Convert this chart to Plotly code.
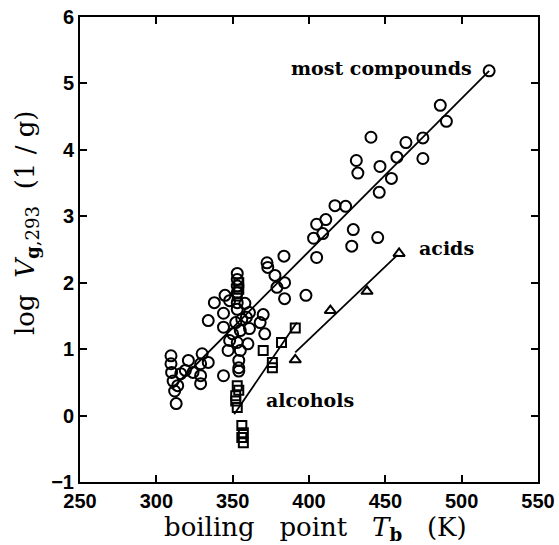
import plotly.graph_objects as go

# most compounds (circles)
comp_x = [309.6, 309.6, 310, 311, 312, 313, 314, 316, 319, 321, 330, 329, 334, 329, 329, 324,
          334, 338, 344, 344, 345, 348, 350, 348, 347, 344,
          353, 353, 353, 353, 353, 353, 355, 353, 355, 354, 354, 354, 358, 359, 361, 361, 360, 356, 352,
          368, 370, 371, 372.5, 373, 377.7, 379, 384, 383.6, 384, 398,
          403, 405, 405, 409, 411, 417, 424, 428, 429, 431, 432, 440.6, 445, 446, 446.5, 454,
          457.6, 463.5, 474.6, 474.6, 486, 490, 518]
comp_y = [0.90, 0.78, 0.65, 0.52, 0.37, 0.18, 0.45, 0.63, 0.68, 0.83, 0.93, 0.78, 0.80, 0.60, 0.48, 0.65,
          1.43, 1.70, 1.54, 1.33, 1.81, 1.73, 1.23, 1.13, 0.98, 0.60,
          2.14, 2.05, 1.95, 1.85, 1.70, 1.60, 1.28, 1.10, 0.98, 0.83, 0.72, 0.67, 1.69, 1.48, 1.55, 1.31, 1.08, 1.45, 1.40,
          1.40, 1.52, 1.23, 2.30, 2.23, 2.11, 1.93, 2.00, 2.40, 1.76, 1.81,
          2.67, 2.88, 2.38, 2.74, 2.95, 3.16, 3.15, 2.55, 2.80, 3.84, 3.65, 4.19, 2.68, 3.36, 3.75, 3.57,
          3.89, 4.11, 4.18, 3.87, 4.67, 4.43, 5.19]

# alcohols (squares)
alc_x = [353, 352, 352, 353, 354, 356, 357, 357, 356, 354, 354, 353, 370, 376, 376, 382, 391]
alc_y = [0.45, 0.30, 0.22, 0.12, 0.38, -0.15, -0.26, -0.41, -0.33, 1.90, 2.00, 1.80, 0.98, 0.80, 0.72, 1.10, 1.32]

# acids (triangles)
acid_x = [391, 414, 438, 459]
acid_y = [0.84, 1.58, 1.87, 2.44]

# regression lines
fit_comp_x = [310, 518]
fit_comp_y = [0.40, 5.19]
fit_alc_x = [351, 392]
fit_alc_y = [0.02, 1.40]
fit_acid_x = [391, 458]
fit_acid_y = [0.95, 2.42]

x_ticks = [250, 300, 350, 400, 450, 500, 550]
y_ticks = [-1, 0, 1, 2, 3, 4, 5, 6]

fig = go.Figure()
line_style = dict(color="black", width=1.8)
for fx, fy in [(fit_comp_x, fit_comp_y), (fit_alc_x, fit_alc_y), (fit_acid_x, fit_acid_y)]:
    fig.add_trace(go.Scatter(x=fx, y=fy, mode="lines", line=line_style, showlegend=False, hoverinfo="skip"))

fig.add_trace(go.Scatter(x=comp_x, y=comp_y, mode="markers", showlegend=False,
                         marker=dict(symbol="circle-open", size=11, color="black", line=dict(width=2, color="black"))))
fig.add_trace(go.Scatter(x=alc_x, y=alc_y, mode="markers", showlegend=False,
                         marker=dict(symbol="square-open", size=9, color="black", line=dict(width=2, color="black"))))
fig.add_trace(go.Scatter(x=acid_x, y=acid_y, mode="markers", showlegend=False,
                         marker=dict(symbol="triangle-up-open", size=10, color="black", line=dict(width=2, color="black"))))

serif = "DejaVu Serif"
ann_font = dict(family=serif, size=19, color="black", weight="bold")
fig.add_annotation(x=508, y=5.23, text="most compounds", showarrow=False, font=ann_font, xanchor="right", yanchor="middle")
fig.add_annotation(x=471, y=2.53, text="acids", showarrow=False, font=ann_font, xanchor="left", yanchor="middle")
fig.add_annotation(x=370.5, y=0.24, text="alcohols", showarrow=False, font=ann_font, xanchor="left", yanchor="middle")

title_font = dict(family=serif, size=26, color="black")
fig.add_annotation(xref="paper", yref="paper", x=0.515, y=-0.099, showarrow=False, font=title_font,
                   text="boiling   point   <i>T</i><sub><b>b</b></sub>   (K)", xanchor="center", yanchor="middle")
fig.add_annotation(xref="paper", yref="paper", x=-0.1157, y=0.557, showarrow=False, font=title_font, textangle=-90,
                   text="log  <i>V</i><sub><b>g</b>,293</sub>  (1 / g)", xanchor="center", yanchor="middle")

axis_common = dict(showline=True, linecolor="black", linewidth=2, mirror="ticks", ticks="inside",
                   ticklen=7, tickwidth=2, tickcolor="black", showgrid=False, zeroline=False, automargin=False,
                   ticklabeloverflow="allow",
                   tickfont=dict(family="Liberation Sans", size=20, color="black", weight="bold"))

fig.update_xaxes(range=[250, 550], tickvals=x_ticks, **axis_common)
fig.update_yaxes(range=[-1, 6], tickvals=y_ticks, **axis_common)

# plot area at 80..538 x 17..482 of the 559x545 page (body margin removed below)
fig.update_layout(width=559, height=545, margin=dict(l=80, r=21, t=17, b=63),
                  plot_bgcolor="white", paper_bgcolor="white")

fig.write_html("out.html", config={"displayModeBar": False},
               post_script="document.body.style.margin='0';")
